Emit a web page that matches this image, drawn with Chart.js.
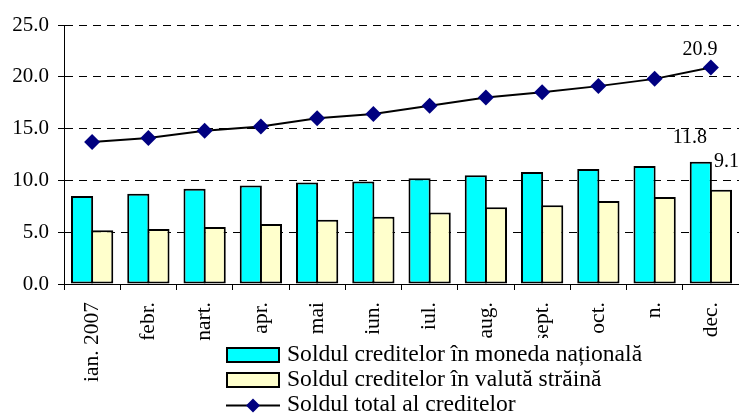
<!DOCTYPE html>
<html>
<head>
<meta charset="utf-8">
<script src="https://cdn.jsdelivr.net/npm/chart.js@4.4.0/dist/chart.umd.min.js"></script>
<style>
  html, body { margin: 0; padding: 0; background: #fff; }
  #credit-chart { display: block; }
</style>
</head>
<body>
<canvas id="credit-chart" width="739" height="414"></canvas>
<script>
// Date din grafic
const months = ['ian. 2007', 'febr.', 'nart.', 'apr.', 'mai', 'iun.', 'iul.', 'aug.', 'sept.', 'oct.', 'n.', 'dec.'];
const nationalCurrency = [8.5, 8.7, 9.2, 9.5, 9.8, 9.9, 10.2, 10.5, 10.8, 11.1, 11.4, 11.8];
const foreignCurrency = [5.2, 5.3, 5.5, 5.8, 6.2, 6.5, 6.9, 7.4, 7.6, 8.0, 8.4, 9.1];
const totalCredits = [13.7, 14.1, 14.8, 15.2, 16.0, 16.4, 17.2, 18.0, 18.5, 19.1, 19.8, 20.9];
const yTicks = [0, 5, 10, 15, 20, 25];

const seriesNames = [
    'Soldul creditelor în moneda națională',
    'Soldul creditelor în valută străină',
    'Soldul total al creditelor'
];

const FONT = '"Liberation Serif", "Times New Roman", serif';

// Etichete pentru ultima luna
const lastLabels = {
    id: 'lastLabels',
    afterDatasetsDraw(chart) {
        const ctx = chart.ctx;
        const last = months.length - 1;
        ctx.save();
        ctx.fillStyle = '#000';
        ctx.font = '20px ' + FONT;
        ctx.textBaseline = 'middle';

        const pt = chart.getDatasetMeta(2).data[last];
        ctx.textAlign = 'center';
        ctx.fillText(totalCredits[last].toFixed(1), pt.x - 11, pt.y - 18);

        const barN = chart.getDatasetMeta(0).data[last];
        ctx.fillText(nationalCurrency[last].toFixed(1), barN.x - 11, barN.y - 24);

        const barF = chart.getDatasetMeta(1).data[last];
        ctx.textAlign = 'left';
        ctx.fillText(foreignCurrency[last].toFixed(1), barF.x - 7, barF.y - 28);
        ctx.restore();
    }
};

// Legenda desenata manual (sta peste zona etichetelor)
const boxLegend = {
    id: 'boxLegend',
    afterDraw(chart) {
        const ctx = chart.ctx;
        const ds = chart.data.datasets;
        ctx.save();
        ctx.fillStyle = '#fff';
        ctx.fillRect(222, 338, 430, 76);

        const rows = [355, 380, 405];
        ctx.font = '23.6px ' + FONT;
        ctx.textBaseline = 'middle';
        ctx.textAlign = 'left';

        for (let i = 0; i < 2; i++) {
            ctx.fillStyle = ds[i].backgroundColor;
            ctx.fillRect(227, rows[i] - 7, 52, 14);
            ctx.lineWidth = 2;
            ctx.strokeStyle = '#000';
            ctx.strokeRect(227, rows[i] - 7, 52, 14);
        }

        // linie cu romb
        ctx.strokeStyle = '#000';
        ctx.lineWidth = 2;
        ctx.beginPath();
        ctx.moveTo(226, rows[2] + 0.5);
        ctx.lineTo(280, rows[2] + 0.5);
        ctx.stroke();
        const cx = 253, cy = rows[2] + 0.5, r = 7;
        ctx.fillStyle = '#000080';
        ctx.beginPath();
        ctx.moveTo(cx, cy - r);
        ctx.lineTo(cx + r, cy);
        ctx.lineTo(cx, cy + r);
        ctx.lineTo(cx - r, cy);
        ctx.closePath();
        ctx.fill();

        ctx.fillStyle = '#000';
        ds.forEach((d, i) => {
            ctx.fillText(d.label, 287, rows[i]);
        });
        ctx.restore();
    }
};

const ctx = document.getElementById('credit-chart');
new Chart(ctx, {
    type: 'bar',
    data: {
        labels: months,
        datasets: [{
            label: seriesNames[0],
            data: nationalCurrency,
            backgroundColor: '#00FFFF',
            borderColor: '#000',
            borderWidth: 2,
            borderSkipped: false,
            barPercentage: 1.1,
            categoryPercentage: 0.716,
            order: 2
        }, {
            label: seriesNames[1],
            data: foreignCurrency,
            backgroundColor: '#FFFFCC',
            borderColor: '#000',
            borderWidth: 2,
            borderSkipped: false,
            barPercentage: 1.1,
            categoryPercentage: 0.716,
            order: 2
        }, {
            type: 'line',
            label: seriesNames[2],
            data: totalCredits,
            borderColor: '#000',
            borderWidth: 2,
            tension: 0,
            pointStyle: 'rectRot',
            pointRadius: 8,
            pointBackgroundColor: '#000080',
            pointBorderColor: '#000080',
            pointBorderWidth: 0,
            order: 1
        }]
    },
    options: {
        responsive: false,
        animation: false,
        layout: {
            autoPadding: false,
            padding: { top: 25, right: 0, left: 0, bottom: 0 }
        },
        plugins: {
            legend: { display: false },
            tooltip: { enabled: false }
        },
        scales: {
            x: {
                offset: true,
                grid: {
                    drawOnChartArea: false,
                    drawTicks: true,
                    tickLength: 6,
                    color: '#000',
                    offset: true
                },
                border: { color: '#000', width: 1 },
                ticks: {
                    color: '#000',
                    font: { family: FONT, size: 21.5 },
                    minRotation: 90,
                    maxRotation: 90,
                    autoSkip: false,
                    padding: 12
                },
                afterFit(scale) {
                    scale.height = 130;
                    scale.paddingLeft = 0;
                    scale.paddingRight = 0;
                }
            },
            y: {
                min: 0,
                max: 25,
                afterBuildTicks(scale) {
                    scale.ticks = yTicks.map(v => ({ value: v }));
                },
                grid: {
                    color: '#000',
                    lineWidth: 1,
                    tickBorderDash: [],
                    tickLength: 6
                },
                border: { color: '#000', width: 1, dash: [8, 6] },
                ticks: {
                    color: '#000',
                    font: { family: FONT, size: 21 },
                    padding: 9,
                    callback: v => v.toFixed(1)
                },
                afterFit(scale) {
                    scale.width = 64;
                }
            }
        }
    },
    plugins: [lastLabels, boxLegend]
});
</script>
</body>
</html>
